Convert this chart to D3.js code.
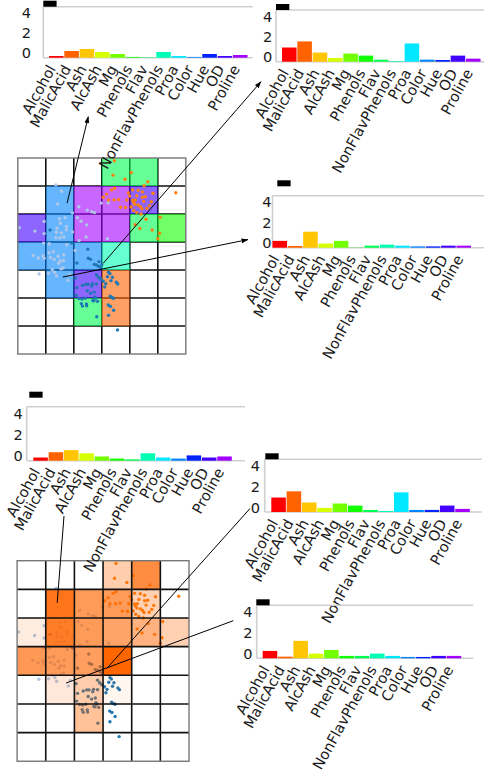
<!DOCTYPE html>
<html>
<head>
<meta charset="utf-8">
<script src="https://cdn.jsdelivr.net/npm/d3@7/dist/d3.min.js"></script>
<style>
  body { margin: 0; background: #fff; }
  svg { display: block; font-family: "DejaVu Sans", sans-serif; }
</style>
</head>
<body>
<svg id="chart" width="484" height="783"></svg>
<script>
// ---- data ---------------------------------------------------------------
const features = ["Alcohol", "MalicAcid", "Ash", "AlcAsh", "Mg", "Phenols", "Flav",
  "NonFlavPhenols", "Proa", "Color", "Hue", "OD", "Proline"];
const yTicks = [0, 2, 4];

// codebook profiles shown in the six bar panels
const profileTopLeft   = [0.17, 0.67, 0.87, 0.57, 0.37, 0.08, 0.04, 0.57, 0.17, 0.08, 0.37, 0.17, 0.27];
const profileTopRight  = [1.40, 2.00, 0.90, 0.37, 0.80, 0.60, 0.20, 0.07, 1.80, 0.20, 0.17, 0.60, 0.30];
const profileMidRight  = [0.67, 0.17, 1.57, 0.40, 0.67, 0.02, 0.20, 0.30, 0.20, 0.13, 0.13, 0.20, 0.20];
const profileLowLeft   = [0.30, 0.80, 1.00, 0.70, 0.40, 0.20, 0.13, 0.70, 0.30, 0.20, 0.50, 0.30, 0.40];
const profileLowRight1 = [1.40, 2.00, 0.92, 0.40, 0.82, 0.62, 0.20, 0.10, 1.90, 0.20, 0.20, 0.62, 0.30];
const profileLowRight2 = [0.71, 0.16, 1.68, 0.45, 0.80, 0.23, 0.23, 0.45, 0.23, 0.13, 0.13, 0.23, 0.23];

// dominant feature of each map unit (null = unit without hits)
const unitFeature = [
  [null, null, null, "Flav", "Flav", null],
  [null, "Color", "Proline", "Proline", "OD", null],
  ["OD", "Color", "Proline", "Proline", "Flav", "Phenols"],
  ["Color", "Color", "Color", "NonFlavPhenols", null, null],
  [null, "Color", "OD", "MalicAcid", null, null],
  [null, null, "Flav", "MalicAcid", null, null],
  [null, null, null, null, null, null]
];

// activation level of each map unit
const unitLevel = [
  [0, 0, 0, 0.32, 0.75, 0],
  [0, 0.90, 0.65, 0.65, 0.30, 0],
  [0.12, 0.85, 0.65, 0.60, 0.50, 0.30],
  [0.67, 0.65, 0.63, 1.00, 0, 0],
  [0, 0.15, 0.33, 0.06, 0, 0],
  [0, 0, 0.40, 0, 0, 0],
  [0, 0, 0, 0, 0, 0]
];

// samples projected onto the map, [column, row] in unit coordinates
const samplesClass1 = [
  [1.15,2.57],[1.93,3.04],[2.50,3.26],[2.52,3.58],[2.60,3.62],[2.11,3.75],[2.73,3.80],[2.81,3.82],
  [2.89,3.87],[2.96,3.92],[3.00,3.81],[2.90,3.70],[2.81,4.17],[2.88,4.26],[2.95,4.32],[3.05,4.40],
  [2.81,4.50],[2.67,4.49],[2.51,4.51],[2.43,4.51],[2.60,4.83],[2.73,4.79],[2.48,4.74],[2.79,5.00],
  [2.40,5.01],[2.29,5.04],[2.18,5.02],[2.08,4.90],[2.27,5.20],[2.45,5.21],[2.85,5.12],[2.72,5.10],
  [2.06,4.29],[2.31,4.55],[2.64,4.57],[2.97,4.33],[2.75,4.96],[2.11,4.63],[3.24,4.08],[3.29,4.13],
  [3.38,4.26],[3.20,4.24],[3.33,4.38],[3.57,4.50],[3.52,4.44],[3.14,4.49],[3.10,4.61],[3.30,4.94],
  [3.37,4.99],[3.42,5.01],[3.31,5.30],[3.42,5.44],[3.23,5.25],[3.24,5.62],[3.56,6.14],[2.82,5.67],
  [2.46,5.28],[2.31,5.29],[2.68,5.09]
];
const samplesClass2 = [
  [1.36,0.96],[1.56,1.19],[1.42,1.64],[1.95,1.96],[2.18,1.74],[2.48,1.86],[2.64,1.92],[2.74,1.95],
  [2.98,1.61],[3.23,1.60],[2.13,2.13],[2.26,2.26],[2.46,2.39],[1.49,2.17],[1.69,2.13],[1.52,2.33],
  [1.74,2.45],[1.74,2.56],[1.40,2.51],[1.38,2.65],[1.56,2.68],[1.65,2.82],[1.51,2.85],[1.36,2.85],
  [0.94,2.27],[0.61,2.61],[0.94,2.70],[0.05,2.49],[1.95,2.64],[2.19,2.95],[2.44,2.82],[3.20,2.88],
  [0.92,3.04],[1.12,3.06],[0.55,3.48],[0.73,3.57],[0.90,3.49],[0.94,3.58],[1.17,3.55],[1.12,3.38],
  [1.27,3.35],[1.44,3.51],[1.64,3.46],[1.64,3.67],[1.52,3.67],[1.30,3.62],[1.46,3.76],[1.23,3.99],
  [1.32,4.08],[1.54,3.96],[1.62,3.93],[0.76,4.14],[1.38,4.21],[1.79,4.37],[1.86,4.18],[1.10,4.12],
  [2.05,3.30],[1.75,3.10]
];
const samplesClass3 = [
  [3.45,0.10],[3.40,0.61],[4.05,0.52],[3.83,0.76],[4.64,0.85],[4.51,0.99],[5.64,1.24],[3.46,1.08],
  [3.35,1.14],[3.17,1.29],[3.05,1.40],[3.24,1.50],[3.44,1.50],[3.60,1.48],[4.00,1.36],[4.10,1.51],
  [4.20,1.50],[4.13,1.58],[4.30,1.15],[4.10,1.14],[4.45,1.21],[4.56,1.38],[4.83,1.26],[4.77,1.56],
  [3.85,1.77],[3.67,1.76],[4.18,1.65],[4.30,1.68],[4.38,1.74],[4.43,1.81],[4.61,1.80],[4.14,1.87],
  [4.40,2.00],[4.58,2.19],[5.08,2.12],[4.19,2.38],[4.36,2.52],[4.80,2.57],[5.06,2.69],[5.00,2.88],
  [3.95,1.25],[4.25,1.35],[4.05,1.75],[3.90,1.50],[4.50,1.55],[4.70,1.70],[4.25,1.95],[4.45,1.40]
];
const classColors = ["#1f77b4", "#aec7e8", "#ff7f0e"];

// ---- layout ---------------------------------------------------------------
const svg = d3.select("#chart");
const featureColor = d3.scaleOrdinal()
  .domain(features)
  .range(features.map((f, i) => d3.hsl(i * 23.2, 1, 0.5).formatHex()));

const COLS = 6, ROWS = 7;
const maps = [
  { x: 17.8, y: 158, cell: 28, mode: "feature" },
  { x: 17.1, y: 560.7, cell: 28.65, mode: "level" }
];

const panels = [
  { values: profileTopLeft,   left: 43.3,  top: 6.7,   bottom: 57.7,  right: 252.7, bar0: 49,    labelRight: 31,    key: [43.3, 0.7] },
  { values: profileTopRight,  left: 276,   top: 10,    bottom: 61.7,  right: 484,   bar0: 282,   labelRight: 272.3, key: [276, 4] },
  { values: profileMidRight,  left: 272.5, top: 195.7, bottom: 247.7, right: 484,   bar0: 272.5, labelRight: 271.5, key: [277.3, 180.3] },
  { values: profileLowLeft,   left: 26.7,  top: 406.7, bottom: 460.7, right: 245,   bar0: 33.3,  labelRight: 22.7,  key: [29.3, 391.7] },
  { values: profileLowRight1, left: 264.7, top: 459.3, bottom: 512,   right: 481.7, bar0: 271.3, labelRight: 260,   key: [265.3, 453.3] },
  { values: profileLowRight2, left: 256.7, top: 605.3, bottom: 658.3, right: 473.3, bar0: 262.7, labelRight: 252.5, key: [256.3, 599.3] }
];

// arrows: start in map-unit coordinates, end in page coordinates
const links = [
  { map: 0, from: [1.76, 1.61], to: [88.3, 116.7], head: true },
  { map: 0, from: [3.05, 3.76], to: [261, 81.7],   head: true },
  { map: 0, from: [1.61, 4.25], to: [248, 239.6],  head: true },
  { map: 1, from: [1.40, 1.47], to: [64, 516],     head: false },
  { map: 1, from: [3.13, 3.76], to: [250, 508.5],  head: false },
  { map: 1, from: [1.71, 4.27], to: [233.3, 620.7], head: false }
];

svg.append("defs").append("marker")
  .attr("id", "head")
  .attr("viewBox", "0 -3 7 6")
  .attr("refX", 6.5).attr("refY", 0)
  .attr("markerUnits", "userSpaceOnUse")
  .attr("markerWidth", 7).attr("markerHeight", 6)
  .attr("orient", "auto")
  .append("path").attr("d", "M0,-2.5L7,0L0,2.5Z").attr("fill", "#000");

// ---- maps -------------------------------------------------------------------
const samples = [samplesClass1, samplesClass2, samplesClass3];

maps.forEach(m => {
  const gx = d3.scaleLinear().domain([0, COLS]).range([m.x, m.x + COLS * m.cell]);
  const gy = d3.scaleLinear().domain([0, ROWS]).range([m.y, m.y + ROWS * m.cell]);
  m.gx = gx; m.gy = gy;
  const g = svg.append("g");
  const units = [];
  for (let r = 0; r < ROWS; r++) for (let c = 0; c < COLS; c++) units.push({ r, c });

  const drawLines = () => {
    const lg = g.append("g");
    d3.range(1, COLS).forEach(c => lg.append("line")
      .attr("x1", gx(c)).attr("x2", gx(c)).attr("y1", gy(0)).attr("y2", gy(ROWS))
      .attr("stroke", "#111").attr("stroke-width", 1.6));
    d3.range(1, ROWS).forEach(r => lg.append("line")
      .attr("x1", gx(0)).attr("x2", gx(COLS)).attr("y1", gy(r)).attr("y2", gy(r))
      .attr("stroke", "#111").attr("stroke-width", 1.6));
  };
  const drawCells = () => {
    g.append("g").selectAll("rect").data(units).join("rect")
      .attr("x", d => gx(d.c)).attr("y", d => gy(d.r))
      .attr("width", gx(1) - gx(0)).attr("height", gy(1) - gy(0))
      .attr("fill", d => m.mode === "feature"
        ? (unitFeature[d.r][d.c] ? featureColor(unitFeature[d.r][d.c]) : "none")
        : "#ff6600")
      .attr("fill-opacity", d => m.mode === "feature" ? 0.6 : unitLevel[d.r][d.c]);
  };
  const drawSamples = () => {
    const sg = g.append("g");
    samples.forEach((pts, k) => {
      sg.selectAll(null).data(pts).join("circle")
        .attr("cx", d => gx(d[0])).attr("cy", d => gy(d[1]))
        .attr("r", 1.7).attr("fill", classColors[k]);
    });
  };

  if (m.mode === "feature") { drawLines(); drawCells(); drawSamples(); }
  else { drawSamples(); drawCells(); drawLines(); }

  g.append("rect")
    .attr("x", gx(0)).attr("y", gy(0))
    .attr("width", gx(COLS) - gx(0)).attr("height", gy(ROWS) - gy(0))
    .attr("fill", "none").attr("stroke", "#777").attr("stroke-width", 1.4);
});

// ---- links ----------------------------------------------------------------
links.forEach(l => {
  const m = maps[l.map];
  svg.append("line")
    .attr("x1", m.gx(l.from[0])).attr("y1", m.gy(l.from[1]))
    .attr("x2", l.to[0]).attr("y2", l.to[1])
    .attr("stroke", "#000").attr("stroke-width", 1)
    .attr("marker-end", l.head ? "url(#head)" : null);
});

// ---- bar panels -------------------------------------------------------------
const PITCH = 15.33;
const FONT = 14.6;
panels.forEach(p => {
  const g = svg.append("g");
  const x = d3.scaleBand().domain(features)
    .range([p.bar0 - PITCH * 0.025, p.bar0 + PITCH * 12.975])
    .paddingInner(0.05).paddingOuter(0.025);
  const y = d3.scaleLinear().domain([0, 5.1]).range([p.bottom, p.top]);

  // frame: top, left and bottom edges
  const frame = g.append("g").attr("stroke", "#cfcfcf").attr("stroke-width", 1.6);
  frame.append("line").attr("x1", p.left).attr("x2", p.right).attr("y1", p.top).attr("y2", p.top);
  frame.append("line").attr("x1", p.left).attr("x2", p.right).attr("y1", p.bottom).attr("y2", p.bottom);
  frame.append("line").attr("x1", p.left).attr("x2", p.left).attr("y1", p.top).attr("y2", p.bottom);

  g.append("g").selectAll("rect").data(features.map((f, i) => ({ f, v: p.values[i] }))).join("rect")
    .attr("x", d => x(d.f)).attr("width", x.bandwidth())
    .attr("y", d => y(d.v)).attr("height", d => y(0) - y(d.v))
    .attr("fill", d => featureColor(d.f));

  // y axis labels
  const ya = g.append("g").attr("transform", `translate(${p.labelRight},0)`)
    .call(d3.axisLeft(y).tickValues(yTicks).tickFormat(d3.format("d")).tickSize(0).tickPadding(0));
  ya.select(".domain").remove();
  ya.selectAll("text").attr("dy", "0").attr("font-size", FONT).attr("fill", "#1a1a1a")
    .attr("font-family", "DejaVu Sans, sans-serif");

  // x axis labels, rotated
  const xa = g.append("g").attr("transform", `translate(0,${p.bottom})`)
    .call(d3.axisBottom(x).tickSize(0).tickPadding(0));
  xa.select(".domain").remove();
  xa.selectAll("text")
    .attr("x", 0).attr("y", 0).attr("dy", 0)
    .attr("text-anchor", "end")
    .attr("transform", "translate(0,11) rotate(-61)")
    .attr("font-size", FONT).attr("fill", "#1a1a1a")
    .attr("font-family", "DejaVu Sans, sans-serif");

  // legend key
  g.append("rect").attr("x", p.key[0]).attr("y", p.key[1]).attr("width", 13.3).attr("height", 6)
    .attr("fill", "#000");
});
</script>
</body>
</html>
